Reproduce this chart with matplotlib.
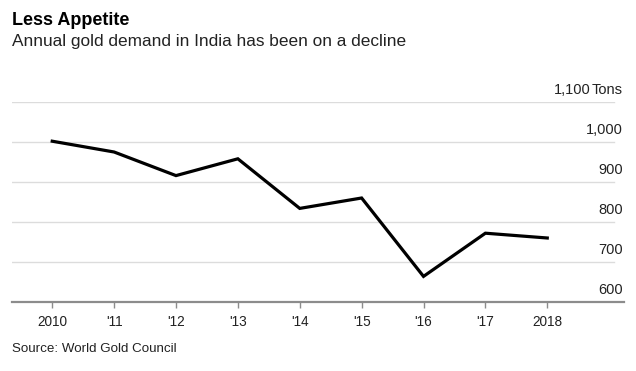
import numpy as np
from matplotlib import pyplot as plt

years = [2010, 2011, 2012, 2013, 2014, 2015, 2016, 2017, 2018]
demand = [1002, 975, 916, 958, 834, 860, 664, 772, 760]
xlabels = ['2010', "'11", "'12", "'13", "'14", "'15", "'16", "'17", '2018']
yticks = [600, 700, 800, 900, 1000, 1100]
ylabels = ['600', '700', '800', '900', '1,000', '1,100']

plt.rcParams['font.family'] = ['Liberation Sans', 'DejaVu Sans']

fg = plt.figure(figsize=(6.36, 3.71), dpi=100)
ax = fg.add_axes([12/636, 69/371, 612/636, 200/371])

ax.plot(years, demand, color='black', lw=2.3, solid_joinstyle='miter', zorder=3)

ax.set_xlim(2009.35, 2019.24)
ax.set_ylim(600, 1100)
for y in yticks[1:]:
    ax.axhline(y, xmax=0.984, color='#dcdcdc', lw=1, zorder=1)

for s in ['top', 'right', 'left']:
    ax.spines[s].set_visible(False)
ax.spines['bottom'].set_color('#8c8c8c')
ax.spines['bottom'].set_linewidth(1.6)

ax.set_xticks(years)
ax.set_xticklabels(xlabels, fontsize=9.8, color='#222222')
ax.tick_params(axis='x', length=4, width=1, color='#8c8c8c', pad=5)
ax.set_yticks([])

# right side labels above gridlines
for y, lab in zip(yticks, ylabels):
    if y == 1100:
        ax.text(0.946, y + 12, lab, transform=ax.get_yaxis_transform(),
                ha='right', va='bottom', fontsize=10.5, color='#222222')
        ax.text(0.998, y + 12, 'Tons', transform=ax.get_yaxis_transform(),
                ha='right', va='bottom', fontsize=10.5, color='#222222')
    else:
        ax.text(0.998, y + 12, lab, transform=ax.get_yaxis_transform(),
                ha='right', va='bottom', fontsize=10.5, color='#222222')

fg.text(12/636, 1 - 25/371, 'Less Appetite', fontsize=13, fontweight='bold',
        color='black', ha='left', va='baseline')
fg.text(12/636, 1 - 46/371, 'Annual gold demand in India has been on a decline',
        fontsize=12.4, color='#222222', ha='left', va='baseline')
fg.text(12/636, 1 - 352/371, 'Source: World Gold Council', fontsize=9.6,
        color='#222222', ha='left', va='baseline')

fg.savefig('out.png', dpi=100, facecolor='white')
